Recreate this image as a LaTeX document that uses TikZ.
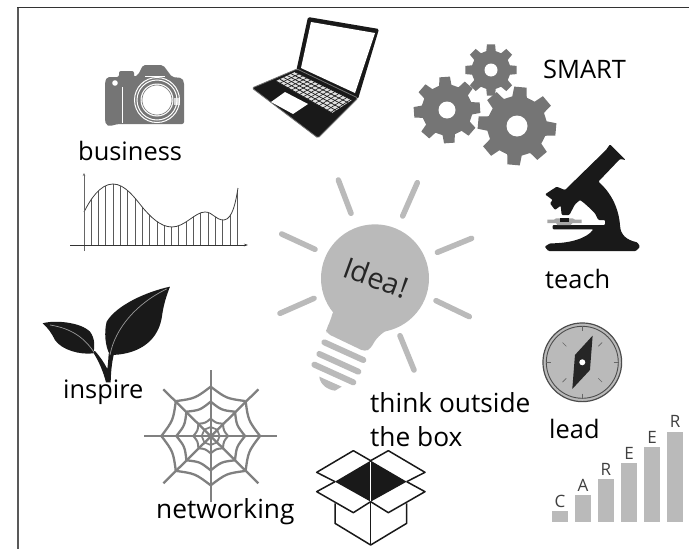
\documentclass[tikz,border=0pt]{standalone}
\usepackage{fontspec}
\setmainfont{Open Sans}
\usetikzlibrary{calc,arrows.meta}
\definecolor{lite}{gray}{0.73}
\definecolor{midg}{gray}{0.46}
\definecolor{webg}{gray}{0.50}
\definecolor{ink}{gray}{0.10}
\tikzset{
  label text/.style={font=\fontsize{25.4}{25.4}\selectfont,anchor=base west,inner sep=0pt,text=black},
  wide text/.style={label text,font=\fontsize{26.3}{26.3}\selectfont},
  ray/.style={draw=lite,line width=5.5pt,line cap=round},
  band/.style={draw=lite,line width=6pt,line cap=round},
  webline/.style={draw=webg,line width=2.3pt},
  boxline/.style={draw=ink,line width=1.5pt,line join=round},
  bar/.style={fill=lite},
  barletter/.style={font=\fontsize{17}{17}\selectfont,anchor=base,inner sep=0pt,text=black!75},
  zoomed/.style={shift={(#1)},scale=1/3}
}
% centre x, centre y, outer r, root r, hole r, rotation
\newcommand{\cog}[6]{%
  \begin{scope}[shift={(#1,#2)}]
  \fill[midg] ({#6-14}:#4) \foreach \k in {0,...,7} {
     -- ({#6+\k*45-14}:#4) -- ({#6+\k*45-9}:#3) -- ({#6+\k*45+9}:#3) -- ({#6+\k*45+14}:#4)} -- cycle;
  \fill[white] (0,0) circle (#5);
  \end{scope}}
\begin{document}
\begin{tikzpicture}[x=1pt,y=-1pt]
\useasboundingbox (0,0) rectangle (689,549);
\fill[white] (0,0) rectangle (689,549);
% frame
\draw[gray!70!black,line width=1.6pt] (17.7,7) -- (17.7,549);
\draw[black!80,line width=1.1pt] (17,7.3) -- (689,7.3);

% camera
\fill[midg,rounded corners=2pt] (105,120) -- (105,82) -- (107,77) -- (119,77) -- (119,71) -- (134,71) -- (134,77) -- (138,75) -- (143,65) -- (163,65) -- (172,77) -- (182,78) -- (184,82) -- (184,124) -- (118,124) -- (110,126) -- (106,125) -- cycle;
\fill[white] (115,83) circle (2.8);
\draw[white,line width=0.9pt] (122,87) -- (122,123);
\draw[white,line width=0.9pt] (145,76) -- (165,76);
\fill[white!85!black] (174,98) rectangle (180,105);
\draw[white,line width=1pt] (157,100) circle (22.5);
\draw[white,line width=1pt] (157,100) circle (20);
\fill[white] (157,100) circle (16.5);
\draw[midg,line width=0.6pt] (157,100) circle (15);

% chart
\begin{scope}
\clip (84,212) .. controls (90,200) and (100,184) .. (113,184) .. controls (125,184) and (135,198) .. (143,208) .. controls (150,216) and (160,227) .. (172,227) .. controls (185,227) and (195,212) .. (205,212) .. controls (213,212) and (215,220) .. (224,220) .. controls (233,219) and (236,200) .. (238,188) -- (238,246) -- (84,246) -- cycle;
\foreach \k in {0,...,21} {\draw[black!65,line width=0.9pt] ({84+\k*7.3},180) -- ({84+\k*7.3},246);}
\end{scope}
\draw[black!75,line width=0.8pt] (84,212) .. controls (90,200) and (100,184) .. (113,184) .. controls (125,184) and (135,198) .. (143,208) .. controls (150,216) and (160,227) .. (172,227) .. controls (185,227) and (195,212) .. (205,212) .. controls (213,212) and (215,220) .. (224,220) .. controls (233,219) and (236,200) .. (238,188);
\draw[black!60,line width=1pt,-{Stealth[length=3pt,width=2.5pt]}] (84,251) -- (84,173);
\draw[black!80,line width=0.9pt,-{Stealth[length=4pt,width=2.5pt]}] (70,245) -- (248,245);

% laptop
\fill[ink,rounded corners=1.5pt] (308,17) -- (379,29) -- (358,99) -- (296,72) -- cycle;
\fill[white] (311,22) -- (375,33) -- (355,93) -- (301,68) -- cycle;
\fill[ink,rounded corners=1.5pt,draw=black!55,line width=0.8pt] (252,88) -- (297,69) -- (358,98) -- (318,138) -- cycle;
\fill[white] (271,102) -- (285,92) -- (308,104) -- (293,114) -- cycle;
\coordinate (ka) at (276,81);
\coordinate (kb) at (295,72);
\coordinate (kc) at (352,100);
\coordinate (kd) at (332,113);
\fill[black!12] (ka) -- (kb) -- (kc) -- (kd) -- cycle;
\foreach \t in {0,0.2,0.4,0.6,0.8,1} {\draw[ink,line width=0.7pt] ($(ka)!\t!(kb)$) -- ($(kd)!\t!(kc)$);}
\foreach \t in {0.07,0.14,...,1} {\draw[ink,line width=0.6pt] ($(ka)!\t!(kd)$) -- ($(kb)!\t!(kc)$);}

% gears
\cog{491}{70}{26}{19.5}{6.5}{0}
\cog{447}{110}{33.5}{25.5}{8.5}{-4}
\cog{517}{126}{39.5}{30}{10.5}{5}

% microscope
\begin{scope}[zoomed={530,135}]
\fill[ink,rounded corners=1pt] (240,28) -- (287,75) -- (270,72) -- (205,140) .. controls (240,170) and (265,215) .. (270,270) .. controls (272,300) and (290,315) .. (322,322) -- (330,335) -- (318,348) -- (55,348) -- (44,335) -- (60,325) .. controls (120,325) and (170,310) .. (190,283) -- (68,283) -- (68,270) -- (225,270) -- (225,255) -- (205,255) -- (195,235) .. controls (185,225) and (165,205) .. (150,195) -- (135,208) -- (118,240) -- (95,240) -- (92,212) -- (75,225) -- (60,205) -- (68,195) -- (45,178) -- (80,155) -- (105,165) -- (228,45) -- cycle;
\fill[black!35] (78,250) -- (128,250) -- (135,254) -- (155,254) -- (155,264) -- (128,264) -- (122,270) -- (82,270) -- (78,264) -- (52,264) -- (52,254) -- (72,254) -- cycle;
\fill[ink] (90,248) rectangle (116,262);
\end{scope}

% bulb
\begin{scope}[zoomed={270,170}]
\fill[lite] (315,325) circle (162);
\fill[lite,rounded corners=4pt] (190,420) .. controls (185,440) and (178,460) .. (168,478) -- (170,490) -- (285,545) -- (303,535) .. controls (320,500) and (345,480) .. (390,462) -- (315,325) -- cycle;
\draw[ray] (205,30) -- (243,130);
\draw[ray] (442,38) -- (398,138);
\draw[ray] (35,192) -- (135,238);
\draw[ray] (605,205) -- (502,247);
\draw[ray] (30,430) -- (132,385);
\draw[ray] (498,392) -- (598,440);
\draw[ray] (390,497) -- (432,600);
\draw[band] (163,517) -- (280,570);
\draw[band] (148,552) -- (265,605);
\draw[band] (133,584) -- (250,637);
\fill[lite] (148,620) -- (215,650) -- (195,662) .. controls (175,660) and (150,645) .. (148,620) -- cycle;
\node[font=\fontsize{29}{29}\selectfont,text=black!85,rotate=-20,inner sep=0pt] (idea) at (318,322) {Idea!};
\end{scope}

% plant
\begin{scope}[zoomed={0,275}]
\fill[ink] (510,35) .. controls (440,50) and (350,90) .. (320,140) .. controls (312,170) and (315,215) .. (330,240) .. controls (400,240) and (470,210) .. (485,130) .. controls (490,90) and (500,60) .. (510,35) -- cycle;
\fill[ink] (128,145) .. controls (160,135) and (240,140) .. (270,170) .. controls (285,190) and (285,215) .. (280,235) .. controls (240,240) and (185,225) .. (165,195) .. controls (155,175) and (145,160) .. (128,145) -- cycle;
\fill[ink] (278,230) .. controls (295,255) and (310,290) .. (318,322) -- (332,322) .. controls (333,290) and (335,265) .. (342,236) -- (326,236) .. controls (325,255) and (324,265) .. (322,282) .. controls (312,262) and (300,245) .. (285,228) -- cycle;
\draw[black!40,line width=0.7pt] (500,42) .. controls (410,85) and (345,160) .. (330,240);
\draw[black!40,line width=0.7pt] (150,150) .. controls (215,160) and (255,190) .. (282,232);
\end{scope}

% web
\begin{scope}[zoomed={210.7,436}]
\draw[webline] (-199,0) -- (200,0);
\draw[webline] (0,-198) -- (0,197);
\draw[webline] (-142,-140) -- (143,142);
\draw[webline] (143,-140) -- (-142,142);
\foreach \a in {0,45,...,315} {
  \draw[webline] (\a:148) .. controls ({\a+22.5}:122) .. ({\a+45}:148);
  \draw[webline] (\a:103) .. controls ({\a+22.5}:84) .. ({\a+45}:103);
  \draw[webline,line width=2pt] (\a:52) .. controls ({\a+22.5}:42) .. ({\a+45}:52);
  \draw[webline,line width=1.7pt] (\a:27) .. controls ({\a+22.5}:22) .. ({\a+45}:27);
}
\end{scope}

% box
\begin{scope}[zoomed={300,440}]
\fill[ink] (212,62) -- (320,125) -- (212,185) -- (105,125) -- cycle;
\draw[boxline] (212,62) -- (160,32) -- (50,97) -- (105,125);
\draw[boxline] (212,62) -- (265,32) -- (375,97) -- (320,125);
\draw[boxline] (105,125) -- (50,155) -- (160,218) -- (212,185);
\draw[boxline] (320,125) -- (375,155) -- (265,218) -- (212,185);
\draw[boxline] (105,190) -- (105,250) -- (212,315) -- (320,250) -- (320,190);
\draw[boxline] (212,185) -- (212,315);
\draw[white,line width=1.2pt] (212,66) -- (212,182);
\end{scope}

% compass
\begin{scope}[zoomed={582.3,362.3}]
\fill[lite] (0,0) circle (118);
\draw[black!70,line width=1.2pt] (0,0) circle (118);
\draw[black!70,line width=0.9pt] (0,0) circle (108);
\foreach \a in {0,90,180,270} {\draw[black!60,line width=0.7pt] (\a:94) -- (\a:108);}
\foreach \a in {45,135,225,315} {\draw[black!60,line width=0.7pt] (\a:68) -- (\a:84);}
\fill[black!85] (31,-80) -- (23,23) -- (-30,80) -- (-22,-22) -- cycle;
\fill[white] (0,0) circle (9);
\end{scope}

% career bars
\foreach \h/\t [count=\i from 0] in {708/C,660/A,613/R,565/E,517/E,470/R} {
  \fill[lite] ({551.7+\i*23},{275+\h/3}) rectangle ({568.3+\i*23},{275+740/3});
  \node[barletter] (bar\i) at ({560+\i*23},{275+\h/3-4}) {\t};
}

% labels
\node[label text] (smart) at (543,78) {SMART};
\node[label text] (business) at (78,160.5) {business};
\node[label text] (teach) at (545,288) {teach};
\node[label text] (inspire) at (63,398) {inspire};
\node[wide text] (networking) at (156,518) {networking};
\node[wide text] (think) at (370,412) {think outside};
\node[wide text] (thebox) at (370,446) {the box};
\node[label text] (lead) at (549,438) {lead};
\end{tikzpicture}
\end{document}
